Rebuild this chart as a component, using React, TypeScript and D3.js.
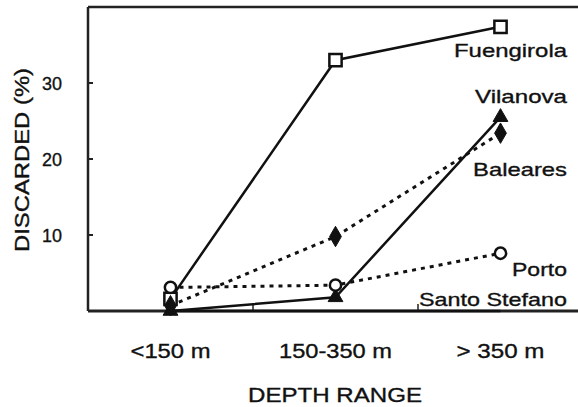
import React from "react";
import * as d3 from "d3";

const depths = ["<150 m", "150-350 m", "> 350 m"];
const yTicks = [10, 20, 30];

const sites = ["Fuengirola", "Vilanova", "Baleares", "Porto", "Santo Stefano"];
const fuengirola = [1.6, 33, 37.4];
const vilanova = [0, 1.8, 25.5];
const baleares = [0.7, 9.8, 23.4];
const porto = [3.1, 3.4, 7.6];
const santoStefano = [0, 0, 0];

// look of each series (kept apart from the values)
const styles = [
  { symbol: d3.symbolSquare, size: 150, filled: false, dash: null },
  { symbol: d3.symbolTriangle, size: 95, filled: true, dash: null },
  { symbol: d3.symbolDiamond, size: 120, filled: true, dash: "4 5" },
  { symbol: d3.symbolCircle, size: 100, filled: false, dash: "4 5" },
  { symbol: null, size: 0, filled: true, dash: null },
];
// label baseline offset from the last point, and its width
const labelLayout = [
  { dy: 30, w: 113 },
  { dy: -14, w: 92 },
  { dy: 43, w: 94 },
  { dy: 23, w: 55 },
  { dy: -5, w: 148 },
];

const W = 578;
const H = 407;
const left = 88;
const right = 583;
const top = 7;
const bottom = 311;
const font = "'Liberation Sans', Arial, Helvetica, sans-serif";

export default function App() {
  const series = [fuengirola, vilanova, baleares, porto, santoStefano];
  const x = d3.scaleBand<string>().domain(depths).range([left, right]).padding(0);
  const y = d3.scaleLinear().domain([0, 40]).range([bottom, top]);
  const cx = (d: string) => (x(d) as number) + x.bandwidth() / 2;

  const line = d3
    .line<number>()
    .x((_, i) => cx(depths[i]))
    .y((v) => y(v));

  const textStyle = { fontFamily: font, fill: "#111", stroke: "#111", strokeWidth: 0.35 };

  return (
    <svg
      width={W}
      height={H}
      style={{ position: "absolute", left: 0, top: 0, background: "#fff" }}
    >
      {/* frame */}
      <line x1={left} x2={W} y1={top} y2={top} stroke="#222" strokeWidth={2.5} />
      <line x1={left} x2={left} y1={top} y2={bottom} stroke="#222" strokeWidth={2.5} />
      <line x1={left} x2={W} y1={bottom} y2={bottom} stroke="#222" strokeWidth={3} />

      {/* y ticks */}
      {yTicks.map((t) => (
        <g key={t}>
          <line x1={left} x2={left + 5} y1={y(t)} y2={y(t)} stroke="#222" strokeWidth={2} />
          <text
            x={62}
            y={y(t)}
            dy="0.35em"
            textAnchor="end"
            fontSize={19}
            textLength={20}
            lengthAdjust="spacingAndGlyphs"
            style={textStyle}
          >
            {t}
          </text>
        </g>
      ))}

      {/* x ticks at category borders */}
      {depths.slice(1).map((d) => (
        <line
          key={d}
          x1={x(d) as number}
          x2={x(d) as number}
          y1={bottom}
          y2={bottom - 7}
          stroke="#222"
          strokeWidth={1.5}
        />
      ))}
      {depths.map((d, i) => (
        <text
          key={d}
          x={cx(d)}
          y={358}
          textAnchor="middle"
          fontSize={20}
          textLength={[80, 113, 88][i]}
          lengthAdjust="spacingAndGlyphs"
          style={textStyle}
        >
          {d}
        </text>
      ))}

      <text
        x={335}
        y={402}
        textAnchor="middle"
        fontSize={20}
        textLength={174}
        lengthAdjust="spacingAndGlyphs"
        style={textStyle}
      >
        DEPTH RANGE
      </text>
      <text
        transform="translate(29,160) rotate(-90)"
        textAnchor="middle"
        fontSize={20}
        textLength={184}
        lengthAdjust="spacingAndGlyphs"
        style={textStyle}
      >
        DISCARDED (%)
      </text>

      {/* lines */}
      {series.map((vals, i) => (
        <path
          key={sites[i]}
          d={line(vals) as string}
          fill="none"
          stroke="#111"
          strokeWidth={styles[i].dash ? 3 : 2.5}
          strokeDasharray={styles[i].dash ?? undefined}
        />
      ))}

      {/* markers */}
      {series.map((vals, i) =>
        styles[i].symbol
          ? vals.map((v, j) => (
              <path
                key={sites[i] + j}
                transform={`translate(${cx(depths[j])},${y(v)})`}
                d={d3.symbol(styles[i].symbol as d3.SymbolType, styles[i].size)() as string}
                fill={styles[i].filled ? "#111" : "#fff"}
                stroke="#111"
                strokeWidth={styles[i].filled ? 1 : 2.5}
              />
            ))
          : null
      )}

      {/* series labels */}
      {series.map((vals, i) => (
        <text
          key={sites[i] + "label"}
          x={567}
          y={y(vals[2]) + labelLayout[i].dy}
          textAnchor="end"
          fontSize={19}
          textLength={labelLayout[i].w}
          lengthAdjust="spacingAndGlyphs"
          style={textStyle}
        >
          {sites[i]}
        </text>
      ))}
    </svg>
  );
}
